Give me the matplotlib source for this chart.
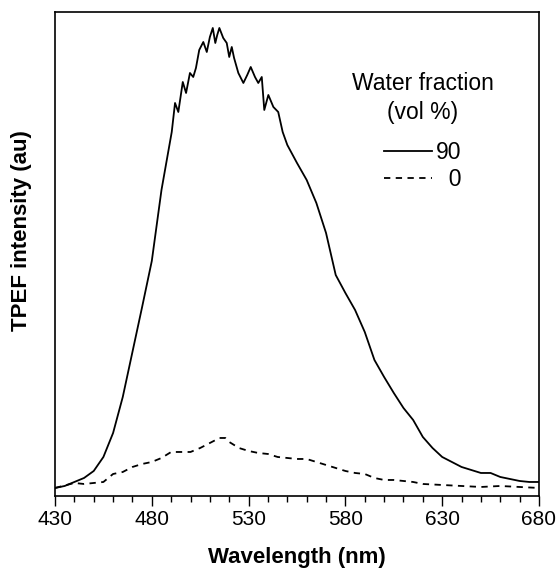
import matplotlib
matplotlib.use("Agg")
import matplotlib.pyplot as plt
from matplotlib.ticker import MultipleLocator

plt.rcParams["font.family"] = ["Liberation Sans", "DejaVu Sans"]

# water fraction 90 vol %
wl_90 = [430, 435, 440, 445, 450, 455, 460, 465, 470, 475, 480, 485,
         490.3, 492, 493.7, 496, 497.7, 499.7, 501.4, 502.8, 504.5, 506.6,
         508.4, 510, 511.5, 512.8, 513.8, 514.9, 516.9, 518.7, 520, 521.3,
         522.5, 524.7, 527.3, 529.3, 531.1, 533.3, 535, 536.8, 538.1, 540.2,
         542.8, 545.3, 547.6, 550, 555, 560, 565, 570, 575, 580, 585, 590,
         595, 600, 605, 610, 615, 620, 625, 630, 635, 640, 645, 650, 655,
         660, 665, 670, 675, 680]
int_90 = [8, 10, 14, 18, 25, 39, 63, 99, 144, 189, 235, 306,
          364, 393, 384, 414, 403, 423, 419, 428, 446, 454,
          444, 459, 468, 453, 461, 468, 458, 453, 439, 449,
          438, 423, 413, 421, 429, 419, 413, 419, 386, 401,
          389, 384, 364, 351, 333, 316, 293, 263, 221, 203, 186, 164,
          136, 119, 103, 88, 76, 59, 48, 39, 34, 29, 26, 23, 23,
          19, 17, 15, 14, 14]

# water fraction 0 vol %
wl_0 = [430, 440, 445, 450, 455, 460, 465, 470, 475, 480, 485, 490, 495,
        500, 505, 510, 515, 518, 520, 525, 530, 535, 540, 545, 550, 555,
        560, 565, 570, 575, 580, 585, 590, 595, 600, 605, 610, 615, 620,
        630, 640, 650, 660, 670, 680]
int_0 = [8, 13, 12, 13, 14, 22, 24, 29, 32, 34, 38, 44, 44,
         44, 48, 53, 58, 58, 54, 48, 45, 43, 42, 39, 38, 37,
         37, 34, 31, 28, 25, 23, 22, 18, 16, 16, 15, 14, 12,
         11, 10, 9, 10, 9, 8]

xticks = [430, 480, 530, 580, 630, 680]

fig = plt.figure(figsize=(5.59, 5.68), dpi=100)
ax = fig.add_axes([0.0984, 0.1268, 0.8658, 0.8521])

ax.plot(wl_90, int_90, color="black", lw=1.3, label="90")
ax.plot(wl_0, int_0, color="black", lw=1.3, linestyle=(0, (3.5, 3)),
        label="\u20070")

ax.set_xlim(430, 680)
ax.set_ylim(0, 484)
ax.set_xticks(xticks)
ax.xaxis.set_minor_locator(MultipleLocator(10))
ax.set_yticks([])
ax.tick_params(axis="x", which="major", direction="out", length=7,
               width=1, labelsize=15, pad=3)
ax.tick_params(axis="x", which="minor", direction="out", length=4, width=1)
for s in ax.spines.values():
    s.set_linewidth(1.2)

ax.set_xlabel("Wavelength (nm)", fontsize=16, fontweight="bold",
              labelpad=13)
ax.set_ylabel("TPEF intensity (au)", fontsize=16, fontweight="bold")
ax.yaxis.set_label_coords(-0.048, 0.548)

leg = ax.legend(title="Water fraction\n(vol %)", loc="upper center",
                bbox_to_anchor=(0.76, 0.90), frameon=False, fontsize=16.5,
                title_fontsize=16.5, handlelength=2.1, handletextpad=0.15,
                labelspacing=0.2, borderpad=0, alignment="center")
leg.get_title().set_multialignment("center")
leg.get_title().set_linespacing(1.35)
leg._legend_box.sep = 12

fig.savefig("out.png", dpi=100, facecolor="white")
